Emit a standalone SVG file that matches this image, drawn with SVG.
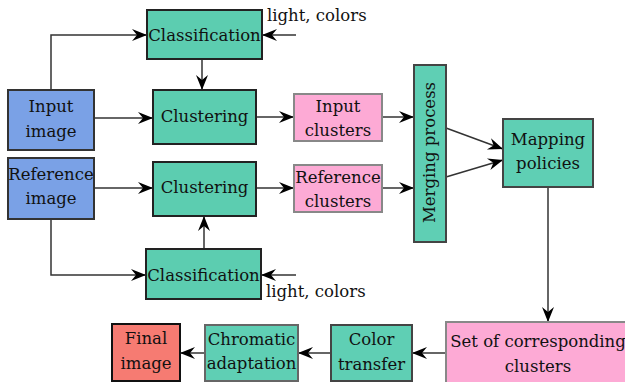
<svg xmlns="http://www.w3.org/2000/svg" width="625" height="382" viewBox="0 0 625 382">
<style>
text{font-family:"DejaVu Serif","Liberation Serif",serif;font-size:16.5px;fill:#111;text-anchor:middle}
.lbl{text-anchor:start}
.blue{fill:#7aa1e6;stroke:#333;stroke-width:2}
.green{fill:#5ccdb0;stroke:#222;stroke-width:2}
.green2{fill:#5fcfb4;stroke:#444;stroke-width:2}
.pink{fill:#fdaad5;stroke:#888;stroke-width:2}
.red{fill:#f67b72;stroke:#111;stroke-width:2}
.c line,.c polyline{fill:none;stroke:#333;stroke-width:1.5;marker-end:url(#ah)}
</style>
<defs>
<marker id="ah" markerUnits="userSpaceOnUse" viewBox="-16 -7 18 14" refX="0" refY="0" markerWidth="18" markerHeight="14" orient="auto">
<path d="M0,0 L-15,-6 L-10,0 L-15,6 Z" fill="#000"/>
</marker>
</defs>
<g class="c" id="connectors">
<polyline points="51,90 51,35 147,35"/>
<line x1="296" y1="35" x2="262" y2="35"/>
<line x1="202" y1="59" x2="202" y2="90"/>
<line x1="94" y1="118" x2="153" y2="118"/>
<line x1="256" y1="117" x2="294" y2="117"/>
<line x1="382" y1="117" x2="414" y2="117"/>
<line x1="94" y1="188" x2="153" y2="188"/>
<line x1="256" y1="188" x2="294" y2="188"/>
<line x1="382" y1="188" x2="414" y2="188"/>
<polyline points="51,219 51,275 146,275"/>
<line x1="296" y1="275" x2="261" y2="275"/>
<line x1="204" y1="249" x2="204" y2="216"/>
<line x1="446" y1="128" x2="503" y2="149"/>
<line x1="446" y1="177" x2="503" y2="160"/>
<line x1="548" y1="187" x2="548" y2="322"/>
<line x1="446" y1="353" x2="412" y2="353"/>
<line x1="331" y1="353" x2="298" y2="353"/>
<line x1="205" y1="353" x2="180" y2="353"/>
</g>
<g id="input-image"><rect class="blue" x="8" y="90" width="86" height="60"/><text x="51" y="112">Input</text><text x="51" y="137">image</text></g>
<g id="reference-image"><rect class="blue" x="8" y="158" width="86" height="61"/><text x="51" y="180">Reference</text><text x="51" y="204">image</text></g>
<g id="classification-top"><rect class="green" x="147" y="10" width="115" height="49"/><text x="204.5" y="41">Classification</text></g>
<g id="clustering-top"><rect class="green" x="153" y="90" width="103" height="54"/><text x="204.5" y="122">Clustering</text></g>
<g id="clustering-bottom"><rect class="green" x="153" y="162" width="103" height="54"/><text x="204.5" y="193">Clustering</text></g>
<g id="classification-bottom"><rect class="green" x="146" y="249" width="115" height="50"/><text x="203.5" y="281">Classification</text></g>
<g id="light-colors-top"><text class="lbl" x="267" y="21">light, colors</text></g>
<g id="light-colors-bottom"><text class="lbl" x="266" y="297">light, colors</text></g>
<g id="input-clusters"><rect class="pink" x="294" y="94" width="88" height="47"/><text x="338" y="112">Input</text><text x="338" y="136">clusters</text></g>
<g id="reference-clusters"><rect class="pink" x="294" y="165" width="88" height="47"/><text x="338" y="183">Reference</text><text x="338" y="207">clusters</text></g>
<g id="merging-process"><rect class="green2" x="414" y="65" width="32" height="177"/><text transform="translate(435,152.5) rotate(-90)">Merging process</text></g>
<g id="mapping-policies"><rect class="green2" x="503" y="119" width="90" height="68"/><text x="548" y="145">Mapping</text><text x="548" y="169">policies</text></g>
<g id="set-of-corresponding-clusters"><rect class="pink" x="446" y="322" width="186" height="70"/><text x="538" y="347">Set of corresponding</text><text x="538" y="372">clusters</text></g>
<g id="color-transfer"><rect class="green2" x="331" y="325" width="81" height="56"/><text x="371.5" y="345">Color</text><text x="371.5" y="370">transfer</text></g>
<g id="chromatic-adaptation"><rect class="green2" x="205" y="325" width="93" height="56" style="stroke:#666"/><text x="251.5" y="345">Chromatic</text><text x="251.5" y="369">adaptation</text></g>
<g id="final-image"><rect class="red" x="112" y="324" width="68" height="57"/><text x="146" y="344">Final</text><text x="146" y="369">image</text></g>
</svg>
